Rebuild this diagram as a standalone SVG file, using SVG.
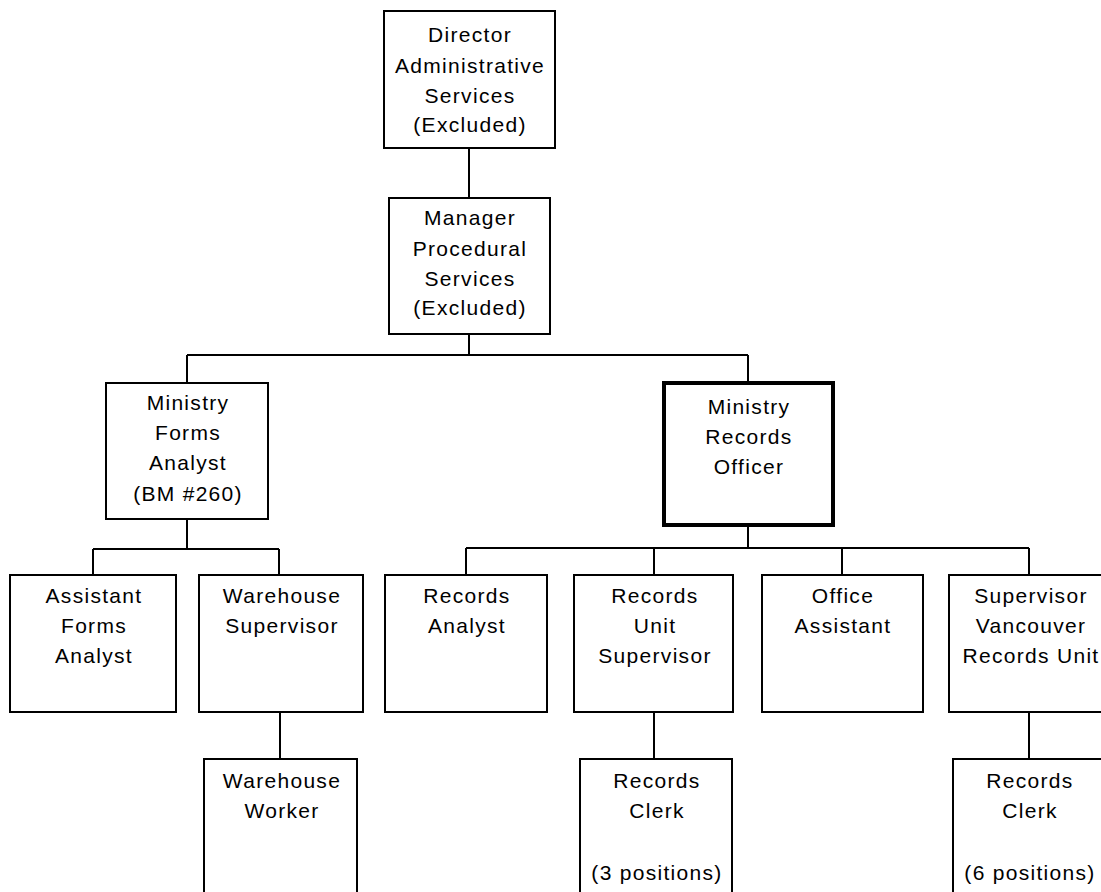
<svg xmlns="http://www.w3.org/2000/svg" width="1101" height="892" viewBox="0 0 1101 892">
<style>
.box{fill:#fff;stroke:#000;stroke-width:2}
.thick{stroke-width:4}
.lbl{font-family:"Liberation Sans",Arial,sans-serif;font-size:21px;letter-spacing:1.3px;text-anchor:middle;fill:#000}
#connectors path{fill:none;stroke:#000;stroke-width:2}
</style>
<rect width="1101" height="892" fill="#fff"/>
<g id="connectors">
<path d="M469,148V198"/>
<path d="M469,334V355M187,355H748M187,355V383M748,355V383"/>
<path d="M187,519V549M93,549H279M93,549V575M279,549V575"/>
<path d="M748,525V548M466,548H1029M466,548V575M654,548V575M842,548V575M1029,548V575"/>
<path d="M280,712V759M654,712V759M1029,712V759"/>
</g>
<g id="director">
<rect class="box" x="384" y="11" width="171" height="137"/>
<text class="lbl"><tspan x="470" y="42">Director</tspan><tspan x="470" y="73">Administrative</tspan><tspan x="470" y="103">Services</tspan><tspan x="470" y="132">(Excluded)</tspan></text>
</g>
<g id="manager">
<rect class="box" x="389" y="198" width="161" height="136"/>
<text class="lbl"><tspan x="470" y="225">Manager</tspan><tspan x="470" y="256">Procedural</tspan><tspan x="470" y="286">Services</tspan><tspan x="470" y="315">(Excluded)</tspan></text>
</g>
<g id="forms-analyst">
<rect class="box" x="106" y="383" width="162" height="136"/>
<text class="lbl"><tspan x="188" y="410">Ministry</tspan><tspan x="188" y="440">Forms</tspan><tspan x="188" y="470">Analyst</tspan><tspan x="188" y="501">(BM #260)</tspan></text>
</g>
<g id="records-officer">
<rect class="box thick" x="664" y="383" width="169" height="142"/>
<text class="lbl"><tspan x="749" y="414">Ministry</tspan><tspan x="749" y="444">Records</tspan><tspan x="749" y="474">Officer</tspan></text>
</g>
<g id="assistant-forms-analyst">
<rect class="box" x="10" y="575" width="166" height="137"/>
<text class="lbl"><tspan x="94" y="603">Assistant</tspan><tspan x="94" y="633">Forms</tspan><tspan x="94" y="663">Analyst</tspan></text>
</g>
<g id="warehouse-supervisor">
<rect class="box" x="199" y="575" width="164" height="137"/>
<text class="lbl"><tspan x="282" y="603">Warehouse</tspan><tspan x="282" y="633">Supervisor</tspan></text>
</g>
<g id="records-analyst">
<rect class="box" x="385" y="575" width="162" height="137"/>
<text class="lbl"><tspan x="467" y="603">Records</tspan><tspan x="467" y="633">Analyst</tspan></text>
</g>
<g id="records-unit-supervisor">
<rect class="box" x="574" y="575" width="159" height="137"/>
<text class="lbl"><tspan x="655" y="603">Records</tspan><tspan x="655" y="633">Unit</tspan><tspan x="655" y="663">Supervisor</tspan></text>
</g>
<g id="office-assistant">
<rect class="box" x="762" y="575" width="161" height="137"/>
<text class="lbl"><tspan x="843" y="603">Office</tspan><tspan x="843" y="633">Assistant</tspan></text>
</g>
<g id="supervisor-vancouver">
<rect class="box" x="949" y="575" width="162" height="137"/>
<text class="lbl"><tspan x="1031" y="603">Supervisor</tspan><tspan x="1031" y="633">Vancouver</tspan><tspan x="1031" y="663">Records Unit</tspan></text>
</g>
<g id="warehouse-worker">
<rect class="box" x="204" y="759" width="153" height="150"/>
<text class="lbl"><tspan x="282" y="788">Warehouse</tspan><tspan x="282" y="818">Worker</tspan></text>
</g>
<g id="records-clerk-3">
<rect class="box" x="580" y="759" width="152" height="150"/>
<text class="lbl"><tspan x="657" y="788">Records</tspan><tspan x="657" y="818">Clerk</tspan><tspan x="657" y="880">(3 positions)</tspan></text>
</g>
<g id="records-clerk-6">
<rect class="box" x="953" y="759" width="152" height="150"/>
<text class="lbl"><tspan x="1030" y="788">Records</tspan><tspan x="1030" y="818">Clerk</tspan><tspan x="1030" y="880">(6 positions)</tspan></text>
</g>
</svg>
